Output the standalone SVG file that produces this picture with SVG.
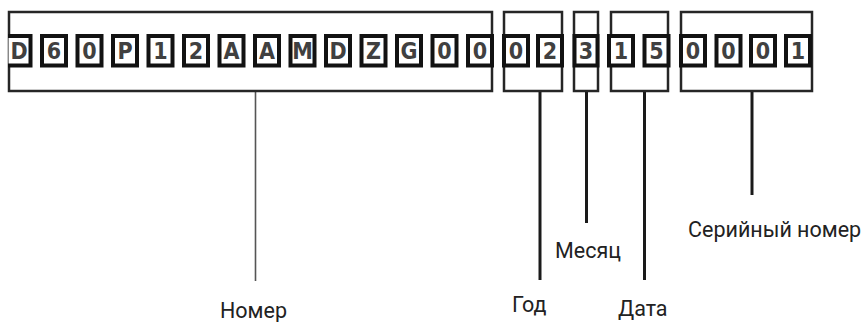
<svg xmlns="http://www.w3.org/2000/svg" width="866" height="322" viewBox="0 0 866 322">
<defs>
<style>
.box{fill:none;stroke:#262626;stroke-width:2.5}
.cell{fill:#fff;stroke:#121212;stroke-width:4}
.ch{font-family:"Liberation Sans Narrow","DejaVu Sans Condensed","Liberation Sans",sans-serif;font-weight:bold;font-size:23px;fill:#404040;text-anchor:middle}
.lbl{font-family:Roboto,"Noto Sans",sans-serif;font-size:21.5px;fill:#222}
.thin{stroke:#555;stroke-width:1.6;fill:none}
.thick{stroke:#1a1a1a;stroke-width:3;fill:none}
</style>
<clipPath id="clipL"><rect x="8" y="0" width="858" height="322"/></clipPath>
</defs>
<rect width="866" height="322" fill="#fff"/>

<g id="connectors">
<line class="thin" x1="255.5" y1="91" x2="255.5" y2="281"/>
<line class="thick" x1="540" y1="92" x2="540" y2="280"/>
<line class="thick" x1="586.5" y1="92" x2="586.5" y2="223"/>
<line class="thick" x1="644.5" y1="92" x2="644.5" y2="280"/>
<line class="thick" x1="752" y1="92" x2="752" y2="195"/>
</g>

<g id="grp-nomer">
<rect class="box" x="9" y="12" width="483" height="79"/>
<g clip-path="url(#clipL)">
<rect class="cell" x="6.5" y="36" width="24" height="29.5"/><text class="ch" x="19" y="59">D</text>
</g>
<rect class="cell" x="42" y="36" width="24" height="29.5"/><text class="ch" x="54" y="59">6</text>
<rect class="cell" x="77.5" y="36" width="24" height="29.5"/><text class="ch" x="89.5" y="59">0</text>
<rect class="cell" x="113" y="36" width="24" height="29.5"/><text class="ch" x="125" y="59">P</text>
<rect class="cell" x="148.5" y="36" width="24" height="29.5"/><text class="ch" x="160.5" y="59">1</text>
<rect class="cell" x="184" y="36" width="24" height="29.5"/><text class="ch" x="196" y="59">2</text>
<rect class="cell" x="219.5" y="36" width="24" height="29.5"/><text class="ch" x="231.5" y="59">A</text>
<rect class="cell" x="255" y="36" width="24" height="29.5"/><text class="ch" x="267" y="59">A</text>
<rect class="cell" x="290.5" y="36" width="24" height="29.5"/><text class="ch" x="302.5" y="59">M</text>
<rect class="cell" x="326" y="36" width="24" height="29.5"/><text class="ch" x="338" y="59">D</text>
<rect class="cell" x="361.5" y="36" width="24" height="29.5"/><text class="ch" x="373.5" y="59">Z</text>
<rect class="cell" x="397" y="36" width="24" height="29.5"/><text class="ch" x="409" y="59">G</text>
<rect class="cell" x="432.5" y="36" width="24" height="29.5"/><text class="ch" x="444.5" y="59">0</text>
<rect class="cell" x="468" y="36" width="24" height="29.5"/><text class="ch" x="480" y="59">0</text>
</g>

<g id="grp-god">
<rect class="box" x="504" y="12" width="58" height="79"/>
<rect class="cell" x="504" y="36" width="24" height="29.5"/><text class="ch" x="516" y="59">0</text>
<rect class="cell" x="538" y="36" width="24" height="29.5"/><text class="ch" x="550" y="59">2</text>
</g>

<g id="grp-mesyac">
<rect class="box" x="574" y="12" width="24" height="79"/>
<rect class="cell" x="574.5" y="36" width="23" height="29.5"/><text class="ch" x="586" y="59">3</text>
</g>

<g id="grp-data">
<rect class="box" x="611" y="12" width="57" height="79"/>
<rect class="cell" x="609" y="36" width="24" height="29.5"/><text class="ch" x="621" y="59">1</text>
<rect class="cell" x="644.5" y="36" width="24" height="29.5"/><text class="ch" x="656.5" y="59">5</text>
</g>

<g id="grp-serial">
<rect class="box" x="681" y="12" width="131" height="79"/>
<rect class="cell" x="681" y="36" width="24" height="29.5"/><text class="ch" x="693" y="59">0</text>
<rect class="cell" x="716.5" y="36" width="24" height="29.5"/><text class="ch" x="728.5" y="59">0</text>
<rect class="cell" x="751" y="36" width="24" height="29.5"/><text class="ch" x="763" y="59">0</text>
<rect class="cell" x="786" y="36" width="24" height="29.5"/><text class="ch" x="798" y="59">1</text>
</g>

<g id="lbl-nomer"><text class="lbl" x="220" y="317.5">Номер</text></g>
<g id="lbl-god"><text class="lbl" x="512" y="311.5">Год</text></g>
<g id="lbl-mesyac"><text class="lbl" x="555" y="258">Месяц</text></g>
<g id="lbl-data"><text class="lbl" x="618" y="316">Дата</text></g>
<g id="lbl-serial"><text class="lbl" x="688" y="237">Серийный номер</text></g>
</svg>
